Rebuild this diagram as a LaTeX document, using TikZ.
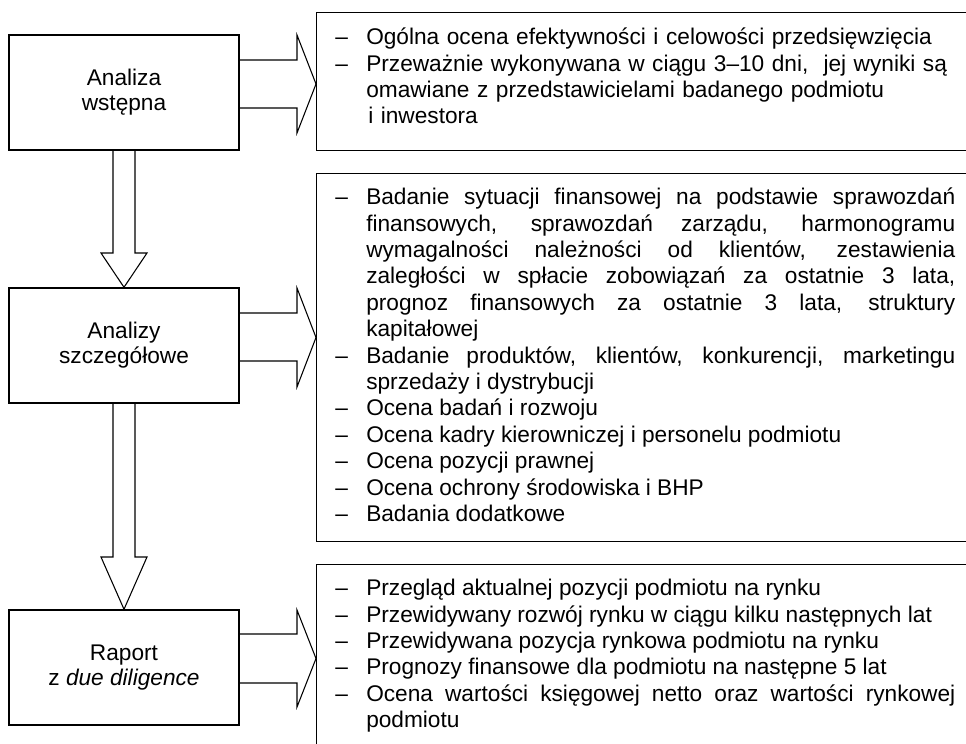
\documentclass[tikz,border=0pt]{standalone}
\usepackage{fontspec}
\setmainfont{Liberation Sans}
\usetikzlibrary{calc}
\tikzset{
  lbox/.style={draw, line width=1.1pt, minimum width=172.5pt, minimum height=86.25pt,
    inner sep=0pt, align=center, font=\fontsize{17.0pt}{18.75pt}\selectfont},
  frame/.style={draw, line width=1.1pt, inner sep=0pt, anchor=north west},
  txt/.style={anchor=north west, inner sep=0pt, text width=465pt,
    font=\fontsize{17.0pt}{19.8pt}\selectfont},
  barrow/.style={draw, line width=0.8pt, line join=miter},
}
\newcommand\itm[1]{\noindent\hangindent=23.25pt\hangafter=1\makebox[23.25pt][l]{–}\rule{0pt}{0.92em}#1\par}
\begin{document}
\begin{tikzpicture}[x=0.75pt, y=-0.75pt]
\useasboundingbox (0,0) rectangle (966,743);
\begin{scope}
\clip (0,0) rectangle (966,743);
% left boxes
\node[lbox] (b1) at (124,92.5) {Analiza\\wstępna};
\node[lbox] (b2) at (124,345.5) {Analizy\\szczegółowe};
\node[lbox] (b3) at (124,667.5) {Raport\\z \textit{due diligence}};
% right frames
\node[frame, minimum width=498pt, minimum height=103.5pt] (rA) at (316,12) {};
\node[frame, minimum width=498pt, minimum height=276pt] (rB) at (316,173) {};
\node[frame, minimum width=498pt, minimum height=160pt] (rC) at (316,564) {};
% texts
\node[txt, align=left] (tA) at (335,23.5) {%
\itm{Ogólna ocena efektywności i celowości przedsięwzięcia}
\itm{Przeważnie wykonywana w ciągu 3–10 dni,\ \ jej wyniki są\newline omawiane z przedstawicielami badanego podmiotu\newline\hspace*{1.5pt}i inwestora}};
\node[txt, align=justify] (tB) at (335,183.5) {%
\itm{Badanie sytuacji finansowej na podstawie sprawozdań\linebreak finansowych, sprawozdań zarządu, harmonogramu\linebreak wymagalności należności od klientów, zestawienia\linebreak zaległości w spłacie zobowiązań za ostatnie 3 lata,\linebreak prognoz finansowych za ostatnie 3 lata, struktury\linebreak kapitałowej}
\itm{Badanie produktów, klientów, konkurencji, marketingu\linebreak sprzedaży i dystrybucji}
\itm{Ocena badań i rozwoju}
\itm{Ocena kadry kierowniczej i personelu podmiotu}
\itm{Ocena pozycji prawnej}
\itm{Ocena ochrony środowiska i BHP}
\itm{Badania dodatkowe}};
\node[txt, align=justify] (tC) at (335,574.5) {%
\itm{Przegląd aktualnej pozycji podmiotu na rynku}
\itm{Przewidywany rozwój rynku w ciągu kilku następnych lat}
\itm{Przewidywana pozycja rynkowa podmiotu na rynku}
\itm{Prognozy finansowe dla podmiotu na następne 5 lat}
\itm{Ocena wartości księgowej netto oraz wartości rynkowej\linebreak podmiotu}};
% right block arrows
\draw[barrow] (b1.east |- 0,60) -- (297,60) -- (297,35) -- (rA.west |- 0,84)
  -- (297,133) -- (297,108) -- (b1.east |- 0,108);
\draw[barrow] (b2.east |- 0,313) -- (297,313) -- (297,288) -- (rB.west |- 0,337.5)
  -- (297,387) -- (297,361) -- (b2.east |- 0,361);
\draw[barrow] (b3.east |- 0,634) -- (297,634) -- (297,610) -- (rC.west |- 0,658.5)
  -- (297,707) -- (297,683) -- (b3.east |- 0,683);
% down block arrows
\draw[barrow] (b1.south -| 113,0) -- (113,253) -- (101,253) -- (b2.north)
  -- (147,253) -- (135,253) -- (b1.south -| 135,0);
\draw[barrow] (b2.south -| 113,0) -- (113,557) -- (101,557) -- (b3.north)
  -- (147,557) -- (135,557) -- (b2.south -| 135,0);
\end{scope}
\end{tikzpicture}
\end{document}
